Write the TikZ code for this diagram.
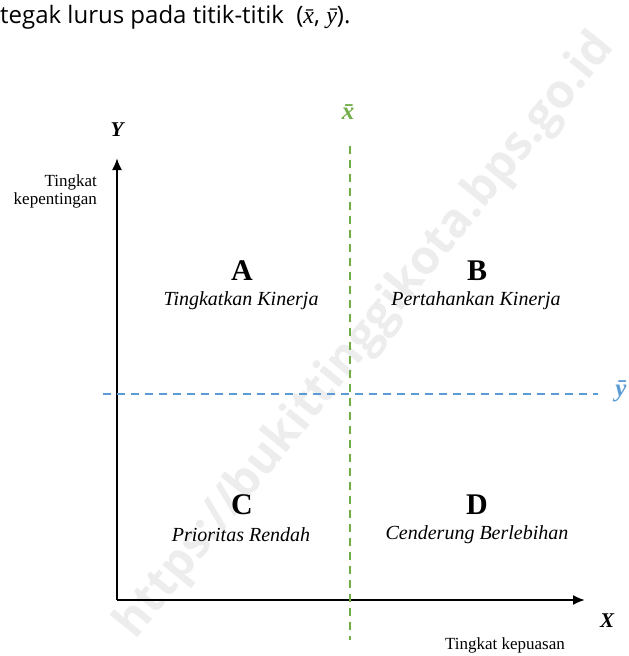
\documentclass[tikz,border=0pt]{standalone}
\usepackage{fontspec}
\setmainfont{Liberation Serif}
\newfontfamily\topfont{Open Sans}
\usepackage{tikz}
\usetikzlibrary{arrows,arrows.meta,shapes}

\definecolor{xbarcol}{HTML}{70AD47}
\definecolor{ybarcol}{HTML}{5B9BD5}

\tikzset{
    quadletter/.style={font=\fontsize{30}{30}\selectfont\bfseries},
    quadtext/.style={font=\fontsize{20}{20}\selectfont\itshape},
    axlabel/.style={font=\fontsize{17}{18}\selectfont},
    axname/.style={font=\fontsize{21}{21}\selectfont\bfseries\itshape},
    axarrow/.style={line width=2pt,-{Latex[length=12pt,width=10pt]}},
}

\begin{document}
\begin{tikzpicture}[x=1pt,y=-1pt]
    \useasboundingbox (0,0) rectangle (629,656);

    % watermark
    \node[text=black!7,rotate=51,font=\topfont\fontsize{47}{47}\selectfont\bfseries] (wm) at (366,336) {https://bukittinggikota.bps.go.id};

    \node[anchor=west,inner sep=0pt,font=\topfont\fontsize{24}{24}\selectfont] (intro) at (0,17) {tegak lurus pada titik-titik\ \ ({\rmfamily\itshape\=x}, {\rmfamily\itshape\=y}).};

    % axes
    \coordinate (origin) at (117,600);
    \coordinate (ytip) at (117,158);
    \coordinate (xtip) at (585,600);
    \draw[axarrow] (origin) -- (ytip);
    \draw[axarrow] (origin) -- (xtip);

    \node[axname] (ylab) at (117,130) {Y};
    \node[axname] (xlab) at (607,621) {X};
    \node[axlabel,align=right,anchor=east,inner sep=0pt] (yname) at (97,191) {Tingkat\\kepentingan};
    \node[axlabel] (xname) at (505,645) {Tingkat kepuasan};

    % mean lines
    \coordinate (xtop) at (350,146);
    \coordinate (xbot) at (350,640);
    \coordinate (yleft) at (103,394);
    \coordinate (yright) at (598,394);
    \draw[xbarcol,line width=1.6pt,dash pattern=on 8pt off 6pt] (xtop) -- (xbot);
    \draw[ybarcol,line width=1.6pt,dash pattern=on 8pt off 6pt] (yleft) -- (yright);
    \node[text=xbarcol,axname,font=\fontsize{25}{25}\selectfont\bfseries\itshape] (xbar) at (348,112) {\=x};
    \node[text=ybarcol,axname,font=\fontsize{25}{25}\selectfont\bfseries\itshape] (ybar) at (621,391) {\=y};

    % quadrants
    \node[quadletter] (qa) at (242,271) {A};
    \node[quadtext] (qatext) at (241,301) {Tingkatkan Kinerja};
    \node[quadletter] (qb) at (477,271) {B};
    \node[quadtext] (qbtext) at (476,301) {Pertahankan Kinerja};
    \node[quadletter] (qc) at (242,505) {C};
    \node[quadtext] (qctext) at (241,535) {Prioritas Rendah};
    \node[quadletter] (qd) at (477,505) {D};
    \node[quadtext] (qdtext) at (477,535) {Cenderung Berlebihan};
\end{tikzpicture}
\end{document}
